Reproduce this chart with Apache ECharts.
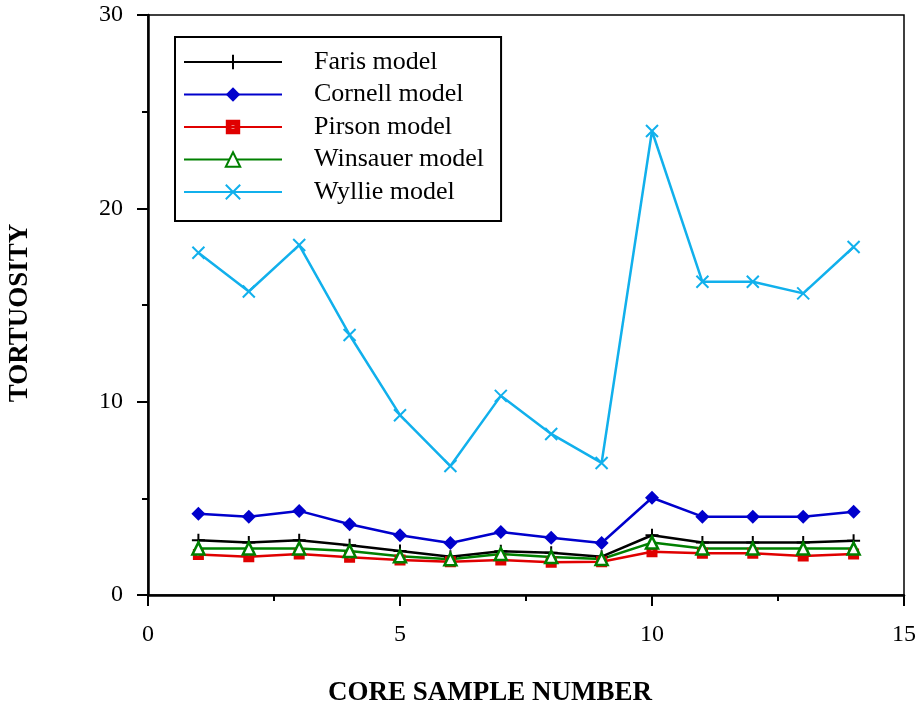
<!DOCTYPE html>
<html>
<head>
<meta charset="utf-8">
<script src="https://cdn.jsdelivr.net/npm/echarts@6/dist/echarts.min.js"></script>
<style>
  html, body { margin: 0; padding: 0; background: #fff; }
  #main { width: 921px; height: 713px; }
</style>
</head>
<body>
<div id="main"></div>
<script>
// sample numbers 1..14
const samples = [1, 2, 3, 4, 5, 6, 7, 8, 9, 10, 11, 12, 13, 14]
const faris = [2.83, 2.71, 2.83, 2.57, 2.28, 1.98, 2.26, 2.19, 1.98, 3.09, 2.71, 2.71, 2.71, 2.81]
const cornell = [4.2, 4.05, 4.35, 3.66, 3.09, 2.69, 3.26, 2.96, 2.69, 5.03, 4.05, 4.05, 4.05, 4.31]
const pirson = [2.09, 1.98, 2.12, 1.95, 1.81, 1.72, 1.81, 1.69, 1.72, 2.24, 2.16, 2.16, 2.02, 2.12]
const winsauer = [2.41, 2.41, 2.41, 2.28, 2.0, 1.85, 2.12, 1.97, 1.86, 2.71, 2.4, 2.4, 2.4, 2.4]
const wyllie = [17.7, 15.7, 18.1, 13.45, 9.3, 6.67, 10.3, 8.33, 6.83, 24.0, 16.2, 16.2, 15.6, 18.0]

const serif = '"Liberation Serif", "DejaVu Serif", serif'

function pairs(vals) {
  return samples.map((s, i) => [s, vals[i]])
}

// 自定义符号
const plusPath = 'path://M5,0L5,10M0,5L10,5'
const crossPath = 'path://M0,0L10,10M10,0L0,10'
const squarePath = 'path://M0,0H10V10H0Z M4,4V6H6V4Z'

function lineSeries(name, vals, color, symbol, size, itemStyle) {
  return {
    name: name,
    type: 'line',
    data: pairs(vals),
    symbol: symbol,
    symbolSize: size,
    color: color,
    lineStyle: { color: color, width: 2.5 },
    itemStyle: itemStyle,
    emphasis: { disabled: true },
    animation: false
  }
}

const chart = echarts.init(document.getElementById('main'))

const option = {
  backgroundColor: '#fff',
  animation: false,
  legend: {
    orient: 'vertical',
    left: 175,
    top: 37,
    itemWidth: 98,
    itemHeight: 18,
    itemGap: 6.5,
    padding: [12, 17, 16, 8],
    borderColor: '#000',
    borderWidth: 2,
    selectedMode: false,
    textStyle: {
      fontFamily: serif,
      fontSize: 26,
      color: '#000',
      padding: [0, 0, 0, 27]
    },
    data: ['Faris model', 'Cornell model', 'Pirson model', 'Winsauer model', 'Wyllie model']
  },
  grid: {
    left: 148,
    right: 17,
    top: 15,
    bottom: 118,
    outerBoundsMode: 'none',
    show: true,
    borderColor: '#000',
    borderWidth: 1.5
  },
  xAxis: {
    type: 'value',
    min: 0,
    max: 15,
    interval: 5,
    name: 'CORE SAMPLE NUMBER',
    nameLocation: 'middle',
    nameGap: 85,
    nameTextStyle: {
      fontFamily: serif, fontSize: 27, fontWeight: 'bold', color: '#000',
      padding: [0, 72, 0, 0] // 标题略偏左
    },
    axisLine: { lineStyle: { color: '#000', width: 2.5 } },
    axisTick: { inside: false, length: 11, lineStyle: { color: '#000', width: 2 } },
    minorTick: { show: true, splitNumber: 2, length: 6, lineStyle: { color: '#000', width: 2 } },
    axisLabel: { fontFamily: serif, fontSize: 24, color: '#000', margin: 28 },
    splitLine: { show: false }
  },
  yAxis: {
    type: 'value',
    min: 0,
    max: 30,
    interval: 10,
    name: 'TORTUOSITY',
    nameLocation: 'middle',
    nameRotate: 90,
    nameGap: 114,
    nameTextStyle: {
      fontFamily: serif, fontSize: 27, fontWeight: 'bold', color: '#000',
      padding: [0, 16, 0, 0]
    },
    axisLine: { lineStyle: { color: '#000', width: 2.5 } },
    axisTick: { inside: false, length: 11, lineStyle: { color: '#000', width: 2 } },
    minorTick: { show: true, splitNumber: 2, length: 6, lineStyle: { color: '#000', width: 2 } },
    axisLabel: { fontFamily: serif, fontSize: 24, color: '#000', margin: 25 },
    splitLine: { show: false }
  },
  series: [
    lineSeries('Faris model', faris, '#000000', plusPath, 13,
      { color: '#000000', borderColor: '#000000', borderWidth: 2 }),
    lineSeries('Cornell model', cornell, '#0000cc', 'diamond', 14,
      { color: '#0000cc' }),
    lineSeries('Pirson model', pirson, '#e00000', squarePath, 11,
      { color: '#e00000' }),
    lineSeries('Winsauer model', winsauer, '#008000', 'triangle', 12,
      { color: '#ffffff', borderColor: '#008000', borderWidth: 2.5 }),
    lineSeries('Wyllie model', wyllie, '#11b0ec', crossPath, 12,
      { color: '#11b0ec', borderColor: '#11b0ec', borderWidth: 2 })
  ]
}

chart.setOption(option)
</script>
</body>
</html>
